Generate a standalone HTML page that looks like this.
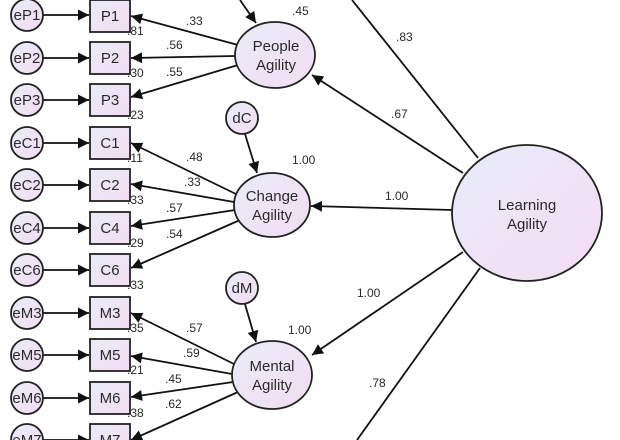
<!DOCTYPE html>
<html><head><style>body{margin:0;background:#fff}svg{display:block}text{font-family:"Liberation Sans",sans-serif;fill:#2a2a2a}</style></head><body>
<svg width="620" height="440" viewBox="0 0 620 440" xmlns="http://www.w3.org/2000/svg">
<defs>
<linearGradient id="g" x1="0" y1="0" x2="1" y2="1"><stop offset="0" stop-color="#e8ecf8"/><stop offset="1" stop-color="#f3dcf3"/></linearGradient>
<marker id="a" viewBox="0 0 10 10" refX="10" refY="5" markerWidth="16" markerHeight="11" markerUnits="userSpaceOnUse" orient="auto"><path d="M0,0L10,5L0,10z" fill="#111"/></marker>
</defs>
<g stroke="#111" stroke-width="1.8" fill="none">
<g marker-end="url(#a)">
<line x1="43" y1="15" x2="89" y2="15"/><line x1="43" y1="58" x2="89" y2="58"/><line x1="43" y1="100" x2="89" y2="100"/>
<line x1="43" y1="143" x2="89" y2="143"/><line x1="43" y1="185" x2="89" y2="185"/><line x1="43" y1="228" x2="89" y2="228"/><line x1="43" y1="270" x2="89" y2="270"/>
<line x1="43" y1="313" x2="89" y2="313"/><line x1="43" y1="355" x2="89" y2="355"/><line x1="43" y1="398" x2="89" y2="398"/><line x1="43" y1="440" x2="89" y2="440"/>
<line x1="238" y1="45" x2="131" y2="16"/><line x1="235" y1="56" x2="131" y2="58"/><line x1="238" y1="65" x2="131" y2="97"/>
<line x1="238" y1="195" x2="131" y2="143"/><line x1="234" y1="202" x2="131" y2="184"/><line x1="235" y1="210" x2="131" y2="226"/><line x1="240" y1="220" x2="131" y2="268"/>
<line x1="236" y1="365" x2="131" y2="313"/><line x1="232" y1="374" x2="131" y2="356"/><line x1="233" y1="382" x2="131" y2="397"/><line x1="238" y1="392" x2="131" y2="440"/>
<line x1="240" y1="0" x2="256" y2="23"/><line x1="245" y1="134" x2="257" y2="173"/><line x1="245" y1="304" x2="256" y2="342"/>
<line x1="463" y1="173" x2="312" y2="75"/><line x1="452" y1="210" x2="311" y2="206"/><line x1="463" y1="252" x2="312" y2="355"/>
</g>
<line x1="478" y1="158" x2="352" y2="0"/><line x1="480" y1="268" x2="357" y2="440"/>
</g>
<g stroke="#222" stroke-width="1.8" fill="url(#g)">
<ellipse cx="527" cy="213" rx="75" ry="68"/>
<ellipse cx="275" cy="55" rx="40" ry="33"/>
<ellipse cx="272" cy="205" rx="38" ry="32"/>
<ellipse cx="272" cy="375" rx="40" ry="34"/>
<circle cx="242" cy="118" r="16"/><circle cx="242" cy="288" r="16"/>
<circle cx="27" cy="15" r="16"/><circle cx="27" cy="58" r="16"/><circle cx="27" cy="100" r="16"/>
<circle cx="27" cy="143" r="16"/><circle cx="27" cy="185" r="16"/><circle cx="27" cy="228" r="16"/><circle cx="27" cy="270" r="16"/>
<circle cx="27" cy="313" r="16"/><circle cx="27" cy="355" r="16"/><circle cx="27" cy="398" r="16"/><circle cx="27" cy="440" r="16"/>
<rect x="90" y="0" width="40" height="32"/><rect x="90" y="42" width="40" height="32"/><rect x="90" y="84" width="40" height="32"/>
<rect x="90" y="127" width="40" height="32"/><rect x="90" y="169" width="40" height="32"/><rect x="90" y="212" width="40" height="32"/><rect x="90" y="254" width="40" height="32"/>
<rect x="90" y="297" width="40" height="32"/><rect x="90" y="339" width="40" height="32"/><rect x="90" y="382" width="40" height="32"/><rect x="90" y="424" width="40" height="32"/>
</g>
<g font-size="15" text-anchor="middle">
<text x="527" y="210">Learning</text><text x="527" y="229">Agility</text>
<text x="276" y="51">People</text><text x="276" y="70">Agility</text>
<text x="272" y="201">Change</text><text x="272" y="220">Agility</text>
<text x="272" y="371">Mental</text><text x="272" y="390">Agility</text>
<text x="242" y="123">dC</text><text x="242" y="293">dM</text>
<text x="27" y="20">eP1</text><text x="27" y="63">eP2</text><text x="27" y="105">eP3</text>
<text x="27" y="148">eC1</text><text x="27" y="190">eC2</text><text x="27" y="233">eC4</text><text x="27" y="275">eC6</text>
<text x="27" y="318">eM3</text><text x="27" y="360">eM5</text><text x="27" y="403">eM6</text><text x="27" y="445">eM7</text>
<text x="110" y="21">P1</text><text x="110" y="63">P2</text><text x="110" y="105">P3</text>
<text x="110" y="148">C1</text><text x="110" y="190">C2</text><text x="110" y="233">C4</text><text x="110" y="275">C6</text>
<text x="110" y="318">M3</text><text x="110" y="360">M5</text><text x="110" y="403">M6</text><text x="110" y="445">M7</text>
</g>
<g font-size="12">
<text x="127" y="35">.81</text><text x="127" y="77">.30</text><text x="127" y="119">.23</text>
<text x="127" y="162">.11</text><text x="127" y="204">.33</text><text x="127" y="247">.29</text><text x="127" y="289">.33</text>
<text x="127" y="332">.35</text><text x="127" y="374">.21</text><text x="127" y="417">.38</text>
<text x="186" y="25">.33</text><text x="166" y="49">.56</text><text x="166" y="76">.55</text>
<text x="186" y="161">.48</text><text x="184" y="186">.33</text><text x="166" y="212">.57</text><text x="166" y="238">.54</text>
<text x="186" y="332">.57</text><text x="183" y="357">.59</text><text x="165" y="383">.45</text><text x="165" y="408">.62</text>
<text x="292" y="15">.45</text><text x="292" y="164">1.00</text><text x="288" y="334">1.00</text>
<text x="396" y="41">.83</text><text x="391" y="118">.67</text><text x="385" y="200">1.00</text><text x="357" y="297">1.00</text><text x="369" y="387">.78</text>
</g>
</svg>
</body></html>
